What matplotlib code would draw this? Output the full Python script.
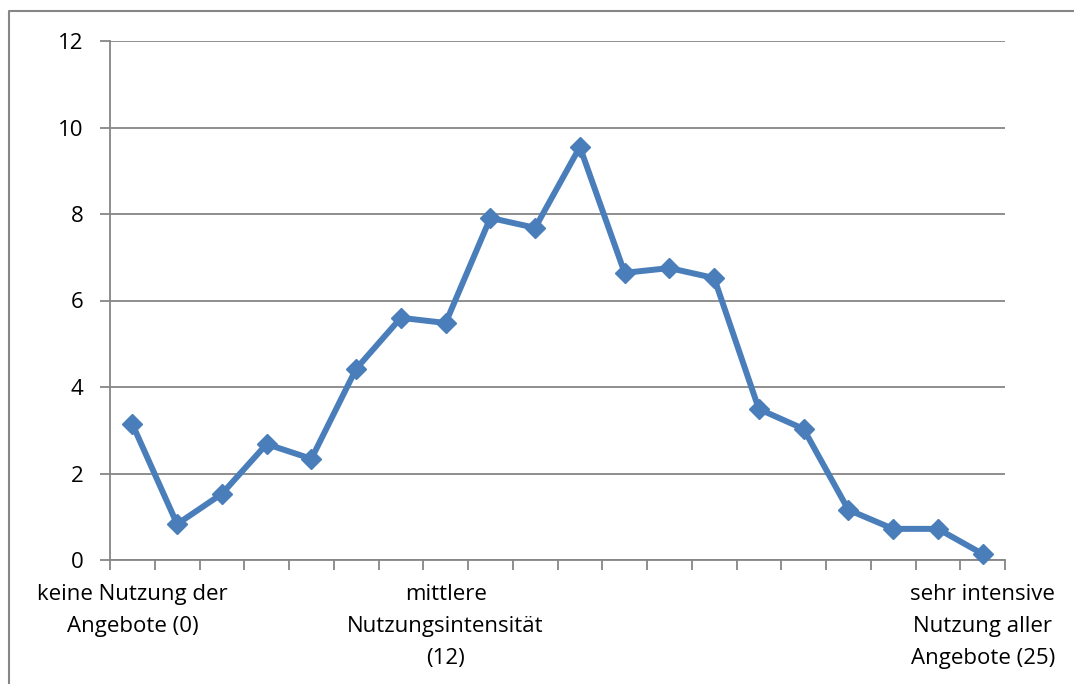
import numpy as np
import matplotlib.pyplot as plt
from matplotlib.lines import Line2D

plt.rcParams['font.family'] = ['Open Sans', 'DejaVu Sans']

values = [3.14, 0.83, 1.53, 2.68, 2.34, 4.42, 5.60, 5.48, 7.91, 7.68,
          9.55, 6.64, 6.75, 6.52, 3.49, 3.03, 1.16, 0.72, 0.72, 0.14]
labels = [''] * len(values)
labels[0] = 'keine Nutzung der\nAngebote (0)'
labels[7] = 'mittlere\nNutzungsintensität\n(12)'
labels[19] = 'sehr intensive\nNutzung aller\nAngebote (25)'
y_ticks = [0, 2, 4, 6, 8, 10, 12]

grey = '#868686'
blue = '#4A7EBB'

fig = plt.figure(figsize=(10.74, 6.84), dpi=100)
ax = fig.add_axes([110 / 1074, 1 - 560 / 684, 895 / 1074, 519 / 684])

x = np.arange(len(values))
ax.plot(x, values, color=blue, lw=4.3, marker='D', markersize=10,
        markeredgecolor=blue, markerfacecolor=blue, zorder=3, clip_on=False)

ax.set_xlim(-0.5, len(values) - 0.5)
ax.set_ylim(0, 12)
ax.set_yticks(y_ticks)
ax.set_yticklabels([str(v) for v in y_ticks], fontsize=16)
ax.yaxis.grid(True, color=grey, lw=1.3)
ax.set_axisbelow(True)

ax.set_xticks(x)
ax.set_xticklabels(labels, fontsize=16, linespacing=1.7)
ax.set_xticks(np.arange(len(values) + 1) - 0.5, minor=True)
ax.tick_params(axis='x', which='major', length=0, pad=17)
ax.tick_params(axis='x', which='minor', length=7, width=1.3, color=grey)
ax.tick_params(axis='y', length=7, width=1.3, color=grey, pad=12)

for s in ['top', 'right']:
    ax.spines[s].set_visible(False)
for s in ['left', 'bottom']:
    ax.spines[s].set_color(grey)
    ax.spines[s].set_linewidth(1.3)

# outer chart frame
fig.add_artist(Line2D([9 / 1074, 9 / 1074, 1.0], [0, 1 - 11 / 684, 1 - 11 / 684],
                      transform=fig.transFigure, color=grey, lw=1.5))

fig.savefig('out.png', dpi=100)
